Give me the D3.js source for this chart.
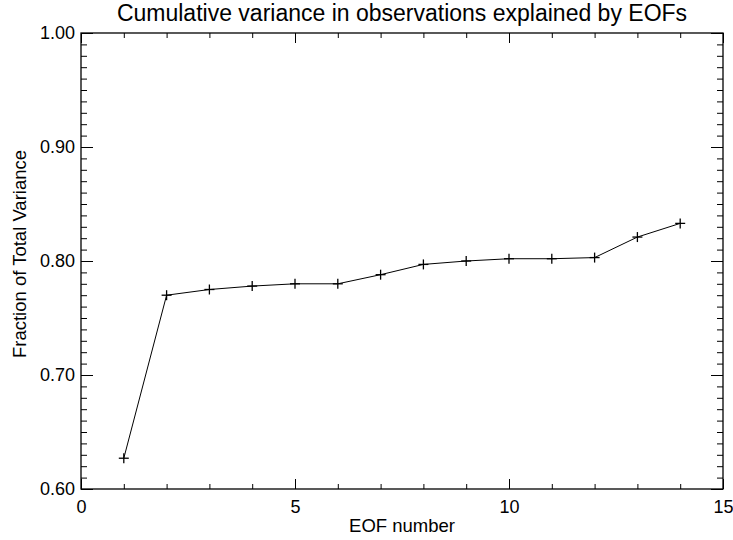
<!DOCTYPE html>
<html>
<head>
<meta charset="utf-8">
<script src="https://cdn.jsdelivr.net/npm/d3@7"></script>
<style>
  body { margin: 0; background: #fff; }
  svg { display: block; font-family: "Liberation Sans", Arial, sans-serif; }
</style>
</head>
<body>
<svg id="chart" width="733" height="540"></svg>
<script>
const eofNumbers = [1, 2, 3, 4, 5, 6, 7, 8, 9, 10, 11, 12, 13, 14];
const cumVariance = [0.627, 0.770, 0.775, 0.778, 0.780, 0.780, 0.788, 0.797, 0.800, 0.802, 0.802, 0.803, 0.821, 0.833];
const xTickValues = [0, 5, 10, 15];
const yTickValues = [0.6, 0.7, 0.8, 0.9, 1.0];

const MARGIN = { top: 33, right: 10, bottom: 51, left: 81 };
const innerW = 723 - MARGIN.left;
const innerH = 489 - MARGIN.top;

const svg = d3.select('#chart');
const g = svg.append('g').attr('transform', `translate(${MARGIN.left},${MARGIN.top})`);

const x = d3.scaleLinear().domain([0, 15]).range([0, innerW]);
const y = d3.scaleLinear().domain([0.6, 1.0]).range([innerH, 0]);

const xMinor = d3.range(0, 15.001, 1);
const yMinor = d3.range(0, 41).map((i) => 0.6 + i * 0.01);

function styleAxis(sel) {
  sel.selectAll('.domain').remove();
  sel.selectAll('line').attr('stroke', '#000').attr('stroke-width', 1);
  sel.selectAll('text').attr('fill', '#000').style('font-size', '18px');
}

// bottom axis
const xb = g.append('g').attr('transform', `translate(0,${innerH})`);
xb.append('g').call(d3.axisBottom(x).tickValues(xMinor).tickSize(-5).tickFormat(''))
  .call(styleAxis);
xb.append('g').call(d3.axisBottom(x).tickValues(xTickValues).tickSize(-10).tickPadding(11).tickFormat(d3.format('d')))
  .call(styleAxis);

// top axis
g.append('g').call(d3.axisTop(x).tickValues(xMinor).tickSize(-5).tickFormat('')).call(styleAxis);
g.append('g').call(d3.axisTop(x).tickValues(xTickValues).tickSize(-10).tickFormat('')).call(styleAxis);

// left axis
const yl = g.append('g');
yl.append('g').call(d3.axisLeft(y).tickValues(yMinor).tickSize(-6).tickFormat('')).call(styleAxis);
yl.append('g').call(d3.axisLeft(y).tickValues(yTickValues).tickSize(-12).tickPadding(6).tickFormat(d3.format('.2f')))
  .call(styleAxis);

// right axis
const yr = g.append('g').attr('transform', `translate(${innerW},0)`);
yr.append('g').call(d3.axisRight(y).tickValues(yMinor).tickSize(-6).tickFormat('')).call(styleAxis);
yr.append('g').call(d3.axisRight(y).tickValues(yTickValues).tickSize(-12).tickFormat('')).call(styleAxis);

// frame
g.append('rect')
  .attr('width', innerW).attr('height', innerH)
  .attr('fill', 'none').attr('stroke', '#000').attr('stroke-width', 1.3);

const points = eofNumbers.map((n, i) => ({ n, v: cumVariance[i] }));

const line = d3.line().x((d) => x(d.n)).y((d) => y(d.v));
g.append('path').datum(points)
  .attr('fill', 'none').attr('stroke', '#000').attr('stroke-width', 1)
  .attr('d', line);

g.selectAll('g.mark').data(points).join('g')
  .attr('class', 'mark')
  .attr('transform', (d) => `translate(${x(d.n)},${y(d.v)})`)
  .each(function () {
    const m = d3.select(this);
    m.append('line').attr('x1', -5).attr('x2', 5).attr('stroke', '#000').attr('stroke-width', 1.3);
    m.append('line').attr('y1', -5).attr('y2', 5).attr('stroke', '#000').attr('stroke-width', 1.3);
  });

svg.append('text')
  .attr('x', MARGIN.left + innerW / 2).attr('y', 21)
  .attr('text-anchor', 'middle').style('font-size', '23px')
  .text('Cumulative variance in observations explained by EOFs');

svg.append('text')
  .attr('x', MARGIN.left + innerW / 2).attr('y', 532)
  .attr('text-anchor', 'middle').style('font-size', '18.5px')
  .text('EOF number');

svg.append('text')
  .attr('transform', `translate(26,254) rotate(-90)`)
  .attr('text-anchor', 'middle').style('font-size', '18.5px')
  .text('Fraction of Total Variance');
</script>
</body>
</html>
